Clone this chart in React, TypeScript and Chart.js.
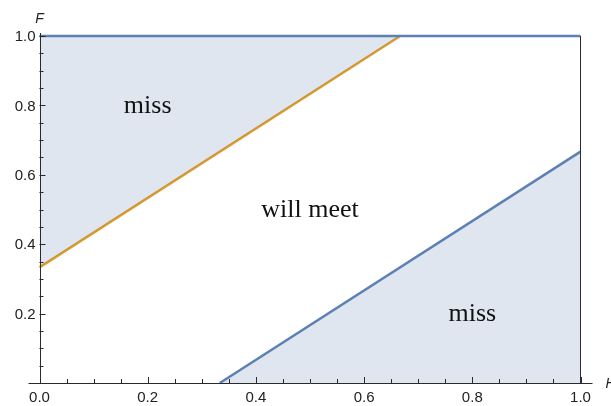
import React, { useEffect, useRef } from "react";
import { Chart, registerables } from "chart.js";

Chart.register(...registerables);

// Region boundaries
const upperLineX = [0, 2 / 3];
const upperLineY = [1 / 3, 1];
const lowerLineX = [1 / 3, 1];
const lowerLineY = [0, 2 / 3];
const topLineX = [0, 1];
const topLineY = [1, 1];
const rightLineX = [1, 1];
const rightLineY = [0, 1];

// Ticks
const xMajorTicks = [0, 0.2, 0.4, 0.6, 0.8, 1.0];
const xTickLabels = ["0.0", "0.2", "0.4", "0.6", "0.8", "1.0"];
const yMajorTicks = [0.2, 0.4, 0.6, 0.8, 1.0];
const yTickLabels = ["0.2", "0.4", "0.6", "0.8", "1.0"];
const minorTicks = [0.05, 0.1, 0.15, 0.25, 0.3, 0.35, 0.45, 0.5, 0.55, 0.65, 0.7, 0.75, 0.85, 0.9, 0.95];

// Region labels
const regionLabels = ["miss", "will meet", "miss"];
const regionLabelX = [0.2, 0.5, 0.8];
const regionLabelY = [0.8, 0.5, 0.2];

const BLUE = "#5e81b5";
const ORANGE = "#e19c24";
const FILL = "rgba(94,129,181,0.2)";
const AXIS = "#2a2a2a";

const pts = (xs: number[], ys: number[]) => xs.map((x, i) => ({ x, y: ys[i] }));

const axesPlugin = {
  id: "mmaAxes",
  afterDatasetsDraw(chart: any) {
    const ctx = chart.ctx;
    const xs = chart.scales.x;
    const ys = chart.scales.y;
    const x0 = xs.getPixelForValue(0);
    const y0 = ys.getPixelForValue(0);
    const x1 = xs.getPixelForValue(1);
    const y1 = ys.getPixelForValue(1);
    ctx.save();
    // region labels
    const fs = 26;
    ctx.fillStyle = "#111";
    ctx.font = `${fs}px 'Liberation Serif', 'Times New Roman', serif`;
    ctx.textAlign = "center";
    ctx.textBaseline = "alphabetic";
    regionLabels.forEach((t, i) => {
      ctx.fillText(t, xs.getPixelForValue(regionLabelX[i]), ys.getPixelForValue(regionLabelY[i]) + fs * 0.29);
    });
    // axis lines
    ctx.strokeStyle = AXIS;
    ctx.lineWidth = 1;
    ctx.beginPath();
    ctx.moveTo(x0 - 11, Math.round(y0) + 0.5);
    ctx.lineTo(x1 + 12, Math.round(y0) + 0.5);
    ctx.moveTo(Math.round(x0) + 0.5, y0);
    ctx.lineTo(Math.round(x0) + 0.5, y1 - 3);
    ctx.stroke();
    // ticks
    ctx.beginPath();
    xMajorTicks.forEach((v) => {
      const p = Math.round(xs.getPixelForValue(v)) + 0.5;
      ctx.moveTo(p, y0);
      ctx.lineTo(p, y0 - 6);
    });
    minorTicks.forEach((v) => {
      const p = Math.round(xs.getPixelForValue(v)) + 0.5;
      ctx.moveTo(p, y0);
      ctx.lineTo(p, y0 - 4);
    });
    yMajorTicks.forEach((v) => {
      const p = Math.round(ys.getPixelForValue(v)) + 0.5;
      ctx.moveTo(x0, p);
      ctx.lineTo(x0 + 6, p);
    });
    minorTicks.forEach((v) => {
      const p = Math.round(ys.getPixelForValue(v)) + 0.5;
      ctx.moveTo(x0, p);
      ctx.lineTo(x0 + 4, p);
    });
    ctx.stroke();
    // tick labels
    ctx.fillStyle = "#222";
    ctx.font = "15px 'Liberation Sans', Arial, sans-serif";
    ctx.textAlign = "center";
    ctx.textBaseline = "middle";
    xMajorTicks.forEach((v, i) => {
      ctx.fillText(xTickLabels[i], xs.getPixelForValue(v), y0 + 15);
    });
    ctx.textAlign = "right";
    yMajorTicks.forEach((v, i) => {
      ctx.fillText(yTickLabels[i], x0 - 4, ys.getPixelForValue(v) + 1);
    });
    // axis titles
    ctx.font = "italic 14px 'Liberation Sans', Arial, sans-serif";
    ctx.textAlign = "center";
    ctx.fillText("F", x0, y1 - 17);
    ctx.textAlign = "left";
    ctx.fillText("H", x1 + 25, y0 + 1);
    ctx.restore();
  },
};

export default function App() {
  const ref = useRef<HTMLCanvasElement | null>(null);
  useEffect(() => {
    document.body.style.margin = "0";
    const canvas = ref.current!;
    const chart = new Chart(canvas, {
      type: "scatter",
      data: {
        datasets: [
          {
            data: pts(upperLineX, upperLineY),
            showLine: true,
            borderWidth: 0,
            borderColor: "rgba(0,0,0,0)",
            backgroundColor: FILL,
            fill: "end",
            pointRadius: 0,
          },
          {
            data: pts(lowerLineX, lowerLineY),
            showLine: true,
            borderWidth: 0,
            borderColor: "rgba(0,0,0,0)",
            backgroundColor: FILL,
            fill: "start",
            pointRadius: 0,
          },
          {
            data: pts(rightLineX, rightLineY),
            showLine: true,
            borderWidth: 1,
            borderColor: AXIS,
            pointRadius: 0,
            clip: false,
          },
          {
            data: pts(topLineX, topLineY),
            showLine: true,
            borderWidth: 2.5,
            borderColor: BLUE,
            pointRadius: 0,
            clip: false,
          },
          {
            data: pts(lowerLineX, lowerLineY),
            showLine: true,
            borderWidth: 2.5,
            borderColor: BLUE,
            pointRadius: 0,
            clip: false,
          },
          {
            data: pts(upperLineX, upperLineY),
            showLine: true,
            borderWidth: 2.5,
            borderColor: ORANGE,
            pointRadius: 0,
            clip: false,
          },
        ] as any,
      },
      options: {
        animation: false,
        responsive: false,
        layout: { padding: { left: 39.5, right: 30.5, top: 36, bottom: 23 } },
        plugins: { legend: { display: false }, tooltip: { enabled: false } },
        scales: {
          x: { type: "linear", min: 0, max: 1, display: false },
          y: { type: "linear", min: 0, max: 1, display: false },
        },
      },
      plugins: [axesPlugin],
    });
    return () => chart.destroy();
  }, []);
  return <canvas ref={ref} width={611} height={406} style={{ display: "block" }} />;
}
